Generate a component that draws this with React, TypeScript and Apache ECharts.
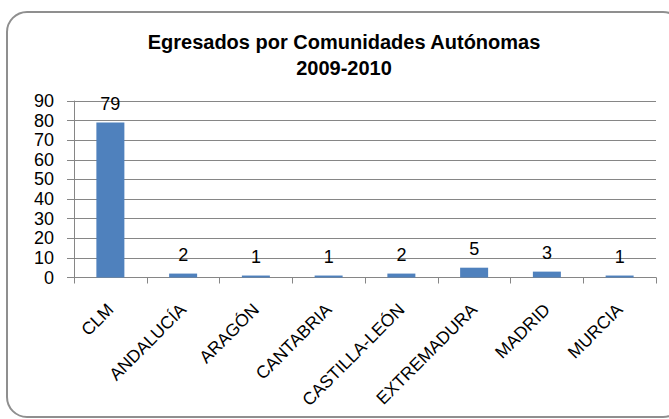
import React, { useEffect, useRef } from "react";
import * as echarts from "echarts";

const categories = ["CLM", "ANDALUCÍA", "ARAGÓN", "CANTABRIA", "CASTILLA-LEÓN", "EXTREMADURA", "MADRID", "MURCIA"];
const values = [79, 2, 1, 1, 2, 5, 3, 1];
const titleLines = ["Egresados por Comunidades Autónomas", "2009-2010"];
const yMin = 0;
const yMax = 90;
const yStep = 10;

const FONT = "'Liberation Sans', Arial, sans-serif";

export default function App() {
  const ref = useRef<HTMLDivElement>(null);
  useEffect(() => {
    if (!ref.current) return;
    const chart = echarts.init(ref.current, null, { renderer: "svg" });
    chart.setOption({
      animation: false,
      backgroundColor: "#ffffff",
      graphic: [
        {
          type: "rect",
          shape: { x: 7, y: 12, width: 676, height: 405, r: 20 },
          style: { fill: "none", stroke: "#8f8f8f", lineWidth: 2 },
          z: -1,
        },
        {
          type: "text",
          x: 344,
          y: 29,
          style: {
            text: titleLines.join("\n"),
            align: "center",
            verticalAlign: "top",
            font: `bold 20px ${FONT}`,
            lineHeight: 26,
            fill: "#000",
          },
        },
      ],
      grid: { left: 74, right: 13, top: 101, bottom: 141.5, containLabel: false },
      xAxis: {
        type: "category",
        data: categories,
        axisLine: { show: true, lineStyle: { color: "#868686", width: 1 } },
        axisTick: { show: true, alignWithLabel: false, length: 6, lineStyle: { color: "#868686" } },
        axisLabel: {
          rotate: 45,
          interval: 0,
          margin: 29,
          fontSize: 17.5,
          fontFamily: FONT,
          color: "#000",
        },
      },
      yAxis: {
        type: "value",
        min: yMin,
        max: yMax,
        interval: yStep,
        axisLine: { show: true, lineStyle: { color: "#868686", width: 1 } },
        axisTick: { show: true, length: 7, lineStyle: { color: "#868686" } },
        splitLine: { show: true, lineStyle: { color: "#868686", width: 1 } },
        axisLabel: { margin: 20, fontSize: 18, fontFamily: FONT, color: "#000" },
      },
      series: [
        {
          type: "bar",
          data: values,
          barWidth: 28,
          itemStyle: { color: "#4F81BD" },
          label: {
            show: true,
            position: "top",
            distance: 10,
            fontSize: 18,
            fontFamily: FONT,
            color: "#000",
          },
        },
      ],
    });
    return () => chart.dispose();
  }, []);
  return (
    <div
      ref={ref}
      style={{ position: "fixed", left: 0, top: 0, width: 669, height: 419 }}
    />
  );
}
